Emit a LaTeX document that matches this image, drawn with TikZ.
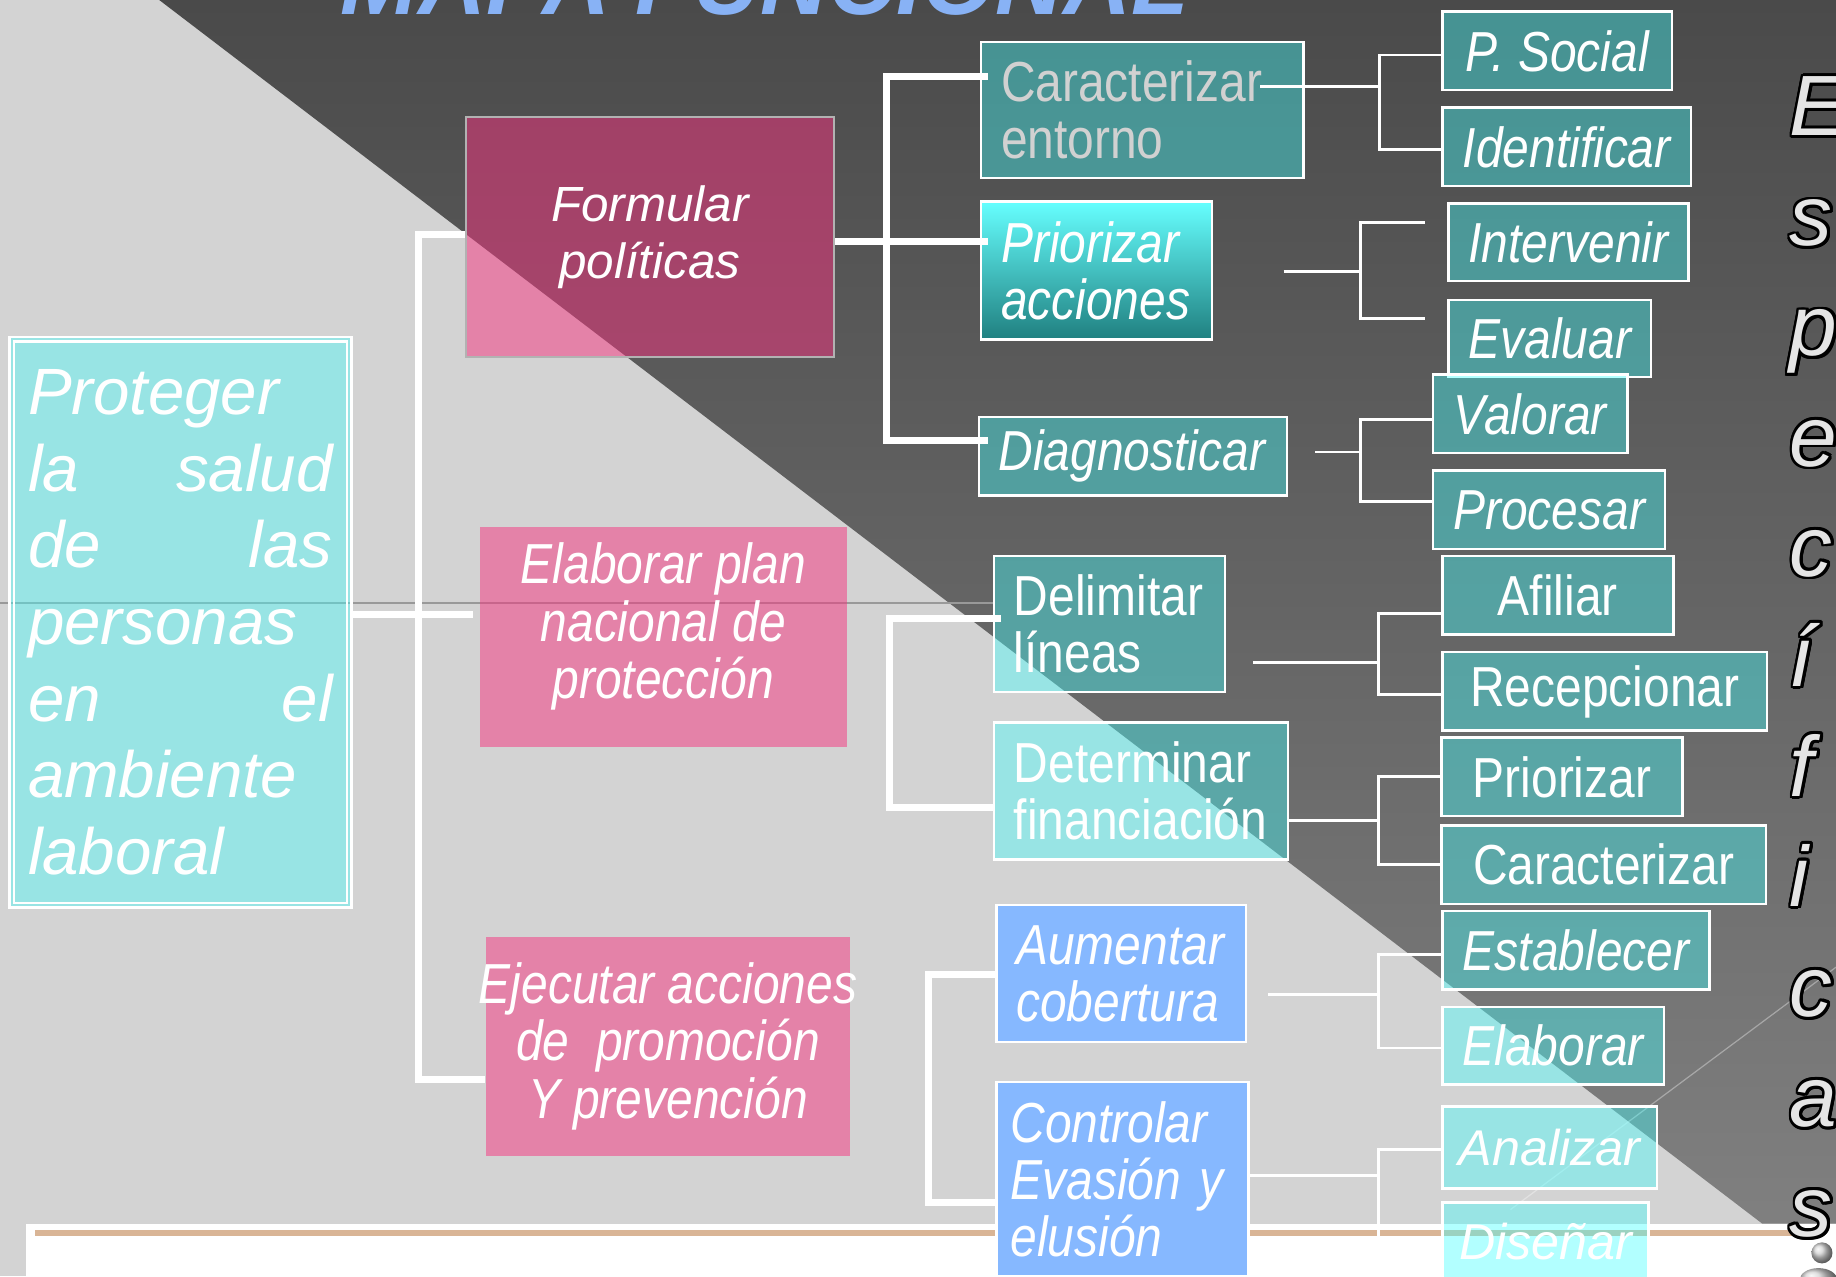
\documentclass[tikz,border=0pt]{standalone}
\usepackage{fontspec}
\setmainfont{Liberation Sans}
\newfontfamily\narrowfont[FakeStretch=0.85]{Liberation Sans}
\usepackage{contour}
\contourlength{0.7pt}
\definecolor{bglight}{HTML}{D3D3D3}
\definecolor{tealfill}{HTML}{40FFFF}
\definecolor{pinkfill}{HTML}{F5337F}
\definecolor{bluefill}{HTML}{86B8FF}
\definecolor{titleblue}{HTML}{88B2F5}
\definecolor{tanline}{HTML}{D9B596}
\usetikzlibrary{calc}

\begin{document}
\begin{tikzpicture}[x=0.01cm, y=-0.01cm,
  goal/.style     = {rectangle, draw=white, line width=0.6pt, fill=tealfill, fill opacity=0.4, text opacity=1, text=white, inner sep=0pt, font=\itshape\fontsize{15.9}{18.6}\selectfont},
  func/.style     = {rectangle, fill=pinkfill, fill opacity=0.5, text opacity=1, text=white, inner sep=0pt, align=center, font=\narrowfont\itshape\fontsize{13.7}{13.9}\selectfont},
  subfunc/.style  = {rectangle, draw=white, line width=0.6pt, fill=tealfill, fill opacity=0.4, text opacity=1, text=white, inner xsep=0.17cm, inner ysep=0pt, align=left, font=\narrowfont\itshape\fontsize{13.7}{13.9}\selectfont},
  bluebox/.style  = {subfunc, fill=bluefill, fill opacity=1},
  task/.style     = {rectangle, draw=white, line width=0.6pt, fill=tealfill, fill opacity=0.4, text opacity=1, text=white, inner sep=0pt, font=\narrowfont\itshape\fontsize{13.7}{13.9}\selectfont},
  upright/.style  = {font=\narrowfont\upshape\fontsize{13.7}{13.9}\selectfont},
  wide/.style     = {font=\itshape\fontsize{12.2}{14}\selectfont},
  maptitle/.style = {inner sep=0pt, text=titleblue, font=\bfseries\itshape\fontsize{22.8}{24}\selectfont},
  vletter/.style  = {inner sep=0pt, text=black!10, font=\itshape\fontsize{20.8}{22}\selectfont},
  trunk/.style    = {draw=white, line width=1.7pt},
  twig/.style     = {draw=white, line width=0.7pt},
  ]
  \useasboundingbox (0,0) rectangle (1568,1090);
  \clip (0,0) rectangle (1568,1090);
  % background
  \fill[bglight] (0,0) rectangle (1568,1090);
  \shade[top color=black!71, middle color=black!65, bottom color=black!50] (136,0) -- (1568,0) -- (1568,1045) -- (1505,1045) -- cycle;
  \fill[white] (22,1045) rectangle (1568,1090);
  \draw[tanline, line width=1.4pt] (30,1053) -- (1530,1053);
  \draw[black!40, line width=0.3pt] (0,515) -- (850,515);
  \draw[white, opacity=0.35, line width=0.3pt] (1290,1033) -- (1568,826);
  % clip-art figure
  \shade[ball color=gray!35] (1556,1070) circle [radius=9];
  \shade[ball color=gray!35] (1553,1093) ellipse [x radius=16, y radius=10];

  \node[maptitle, anchor=base west] (mapa) at (290,12) {MAPA FUNCIONAL};
  \foreach \ch [count=\idx from 0] in {E,s,p,e,c,í,f,i,c,a,s}
    \node[vletter, anchor=base west] at (1528,{116+94*\idx}) {\contour{black}{\ch}};

  % goal
  \node[goal, minimum width=2.92cm, minimum height=4.87cm, text width=2.6cm, align=left] (proteger) at (154,531.5)
    {Proteger\\ \makebox[2.6cm]{la\hfill salud}\\ \makebox[2.6cm]{de\hfill las}\\ personas\\ \makebox[2.6cm]{en\hfill el}\\ ambiente\\ laboral};
  \draw[white, line width=0.6pt] ([shift={(5,5)}]proteger.north west) rectangle ([shift={(-5,-5)}]proteger.south east);

  % functions
  \node[func, draw=black!30, line width=0.6pt, minimum width=3.14cm, minimum height=2.05cm, font=\itshape\fontsize{12}{13.7}\selectfont] (formular) at (555,202.5) {Formular\\políticas};
  \node[func, minimum width=3.13cm, minimum height=1.88cm, text depth=0.28cm] (elaborar) at (566.5,544) {Elaborar plan\\nacional de\\protección};
  \node[func, minimum width=3.11cm, minimum height=1.87cm] (ejecutar) at (570.5,893.5) {\makebox[3.11cm]{Ejecutar acciones}\\de\ \ promoción\\Y prevención};

  % sub-functions
  \node[subfunc, upright, text=black!18, text width=2.41cm, minimum height=1.16cm] (caract) at (975.5,94) {Caracterizar\\entorno};
  \node[subfunc, top color=cyan!60!white, bottom color=teal!75!gray, fill opacity=1, text width=1.63cm, minimum height=1.18cm] (prioracc) at (936.5,231) {Priorizar\\acciones};
  \node[subfunc, text width=2.29cm, minimum height=0.67cm] (diagn) at (967.5,389.5) {Diagnosticar};
  \node[subfunc, upright, text width=1.63cm, minimum height=1.16cm] (delim) at (947.5,533) {Delimitar\\líneas};
  \node[subfunc, upright, text width=2.17cm, minimum height=1.17cm] (determ) at (974.5,675.5) {Determinar\\financiación};
  \node[bluebox, text width=1.79cm, minimum height=1.17cm] (aument) at (957.5,831.5) {Aumentar\\cobertura};
  \node[bluebox, inner xsep=0.12cm, text width=1.91cm, minimum height=1.66cm] (control) at (958.5,1007) {Controlar\\Evasión y\\elusión};

  % tasks
  \node[task, minimum width=1.96cm, minimum height=0.67cm] (psocial) at (1330,43.5) {P. Social};
  \node[task, minimum width=2.12cm, minimum height=0.67cm] (ident) at (1338,125.5) {Identificar};
  \node[task, minimum width=2.05cm, minimum height=0.66cm] (interv) at (1339.5,207) {Intervenir};
  \node[task, minimum width=1.73cm, minimum height=0.66cm] (evaluar) at (1323.5,289) {Evaluar};
  \node[task, minimum width=1.66cm, minimum height=0.67cm] (valorar) at (1307,353.5) {Valorar};
  \node[task, minimum width=1.98cm, minimum height=0.67cm] (procesar) at (1323,435.5) {Procesar};
  \node[task, upright, minimum width=1.97cm, minimum height=0.67cm] (afiliar) at (1330.5,508.5) {Afiliar};
  \node[task, upright, minimum width=2.77cm, minimum height=0.67cm] (recep) at (1370.5,590.5) {Recepcionar};
  \node[task, upright, minimum width=2.06cm, minimum height=0.67cm] (prioriz) at (1334,663.5) {Priorizar};
  \node[task, upright, minimum width=2.77cm, minimum height=0.67cm] (caracz) at (1369.5,738.5) {Caracterizar};
  \node[task, minimum width=2.28cm, minimum height=0.67cm] (establ) at (1346,811.5) {Establecer};
  \node[task, minimum width=1.89cm, minimum height=0.66cm] (elabor) at (1326.5,893) {Elaborar};
  \node[task, wide, minimum width=1.83cm, minimum height=0.70cm] (analiz) at (1323.5,980) {Analizar};
  \node[task, wide, minimum width=1.76cm, minimum height=0.66cm] (disen) at (1320,1060) {Diseñar};

  % main tree
  \coordinate (t0) at (357,525);
  \coordinate (t1) at (357,922);
  \draw[trunk] (proteger.east |- t0) -- ([xshift=-0.05cm]elaborar.west |- t0);
  \draw[trunk] (formular.west |- 0,200) -| (t1) -- (ejecutar.west |- t1);
  % formular politicas
  \coordinate (f0) at (757,206);
  \coordinate (f1) at (757,376);
  \draw[trunk] (formular.east |- f0) -- ([xshift=0.07cm]prioracc.west |- f0);
  \draw[trunk] ([xshift=0.07cm]caract.west |- 0,65) -| (f1) -- ([xshift=0.09cm]diagn.west |- f1);
  % elaborar plan
  \coordinate (e1) at (760,690);
  \draw[trunk] ([xshift=0.07cm]delim.west |- 0,528) -| (e1) -- (determ.west |- e1);
  % ejecutar acciones
  \coordinate (x1) at (793,1027);
  \draw[trunk] (aument.west |- 0,832) -| (x1) -- (control.west |- x1);

  % tasks brackets
  \coordinate (c1) at (1178,128);
  \draw[twig] ([xshift=-0.38cm]caract.east |- 0,74) -- (c1 |- 0,74);
  \draw[twig] (psocial.west |- 0,47) -| (c1) -- (ident.west |- c1);
  \coordinate (p1) at (1162,272);
  \draw[twig] ([xshift=0.6cm]prioracc.east |- 0,232) -- (p1 |- 0,232);
  \draw[twig] ([xshift=-0.19cm]interv.west |- 0,190) -| (p1) -- ([xshift=-0.19cm]evaluar.west |- p1);
  \coordinate (d1) at (1162,428);
  \draw[twig] ([xshift=0.23cm]diagn.east |- 0,386) -- (d1 |- 0,386);
  \draw[twig] (valorar.west |- 0,358) -| (d1) -- (procesar.west |- d1);
  \coordinate (l1) at (1177,593);
  \draw[twig] ([xshift=0.23cm]delim.east |- 0,566) -- (l1 |- 0,566);
  \draw[twig] (afiliar.west |- 0,524) -| (l1) -- (recep.west |- l1);
  \coordinate (m1) at (1177,738);
  \draw[twig] (determ.east |- 0,701) -- (m1 |- 0,701);
  \draw[twig] (prioriz.west |- 0,663) -| (m1) -- (caracz.west |- m1);
  \coordinate (a1) at (1177,895);
  \draw[twig] ([xshift=0.18cm]aument.east |- 0,849) -- (a1 |- 0,849);
  \draw[twig] (establ.west |- 0,815) -| (a1) -- (elabor.west |- a1);
  \coordinate (k1) at (1177,1058);
  \draw[twig] (control.east |- 0,1004) -- (k1 |- 0,1004);
  \draw[twig] (analiz.west |- 0,982) -| (k1);
\end{tikzpicture}
\end{document}
